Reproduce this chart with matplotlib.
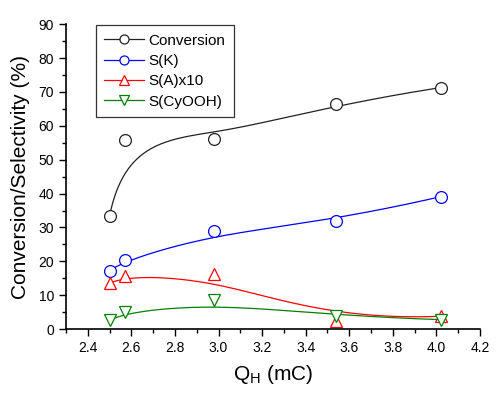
import numpy as np
import matplotlib
matplotlib.use("Agg")
import matplotlib.pyplot as plt
from matplotlib.ticker import MultipleLocator

plt.rcParams['font.family'] = ['Liberation Sans', 'DejaVu Sans']

# data
q = [2.50, 2.57, 2.98, 3.54, 4.02]
conversion = [33.4, 55.8, 56.1, 66.5, 71.3]
sel_k = [17.3, 20.3, 28.9, 32.0, 39.1]
sel_a10 = [13.5, 15.8, 16.3, 2.5, 3.8]
sel_cyooh = [2.6, 5.0, 8.5, 3.8, 2.8]


def bspline(xs, ys, k=3, n=200):
    # clamped B-spline using the data points as control points (Origin style)
    P = np.column_stack([xs, ys])
    m = len(P)
    inner = np.linspace(0, 1, m - k + 1)[1:-1]
    t = np.concatenate([np.zeros(k + 1), inner, np.ones(k + 1)])
    u = np.linspace(0, 1, n)
    out = []
    for uu in u:
        # basis functions by Cox-de Boor
        N = np.zeros(len(t) - 1)
        for i in range(len(t) - 1):
            if t[i] <= uu < t[i + 1] or (uu == 1.0 and t[i] < t[i + 1] == 1.0):
                N[i] = 1.0
        for d in range(1, k + 1):
            Nn = np.zeros(len(t) - 1 - d)
            for i in range(len(Nn)):
                a = 0.0
                if t[i + d] != t[i]:
                    a = (uu - t[i]) / (t[i + d] - t[i]) * N[i]
                b = 0.0
                if t[i + d + 1] != t[i + 1]:
                    b = (t[i + d + 1] - uu) / (t[i + d + 1] - t[i + 1]) * N[i + 1]
                Nn[i] = a + b
            N = Nn
        out.append(N[:m] @ P)
    out = np.array(out)
    return out[:, 0], out[:, 1]


fig = plt.figure(figsize=(5.0, 3.97), dpi=100)
ax = fig.add_axes([0.132, 0.171, 0.828, 0.768])

series = [
    (conversion, '#222222', 'o', 'Conversion'),
    (sel_k, 'blue', 'o', 'S(K)'),
    (sel_a10, 'red', '^', 'S(A)x10'),
    (sel_cyooh, 'green', 'v', 'S(CyOOH)'),
]
for ys, c, mk, lab in series:
    sx, sy = bspline(q, ys)
    ax.plot(sx, sy, color=c, lw=0.9)
    ax.plot(q, ys, ls='none', marker=mk, ms=8.5, mfc='white', mec=c, mew=0.9)
    ax.plot([], [], color=c, lw=0.9, marker=mk, ms=6.5, mfc='white', mec=c,
            mew=0.9, label=lab)

ax.set_xlim(2.3, 4.2)
ax.set_ylim(0, 90)
ax.xaxis.set_minor_locator(MultipleLocator(0.1))
ax.yaxis.set_major_locator(MultipleLocator(10))
ax.yaxis.set_minor_locator(MultipleLocator(5))
ax.set_xticks(np.arange(2.4, 4.21, 0.2))
ax.spines['top'].set_visible(False)
ax.spines['right'].set_visible(False)
for s in ('left', 'bottom'):
    ax.spines[s].set_linewidth(1.2)
ax.tick_params(which='major', direction='out', length=5, width=1.0, labelsize=10)
ax.tick_params(which='minor', direction='out', length=3, width=1.0)

ax.set_xlabel('Q$_\\mathregular{H}$ (mC)', fontsize=15, labelpad=6)
ax.set_ylabel('Conversion/Selectivity (%)', fontsize=15, labelpad=6)

leg = ax.legend(loc='upper left', bbox_to_anchor=(0.072, 0.997), fontsize=11,
                frameon=True, fancybox=False, handlelength=2.6,
                labelspacing=0.42, borderpad=0.55, handletextpad=0.3,
                borderaxespad=0)
leg.get_frame().set_edgecolor('black')
leg.get_frame().set_linewidth(0.9)

fig.savefig('out.png', dpi=100)
